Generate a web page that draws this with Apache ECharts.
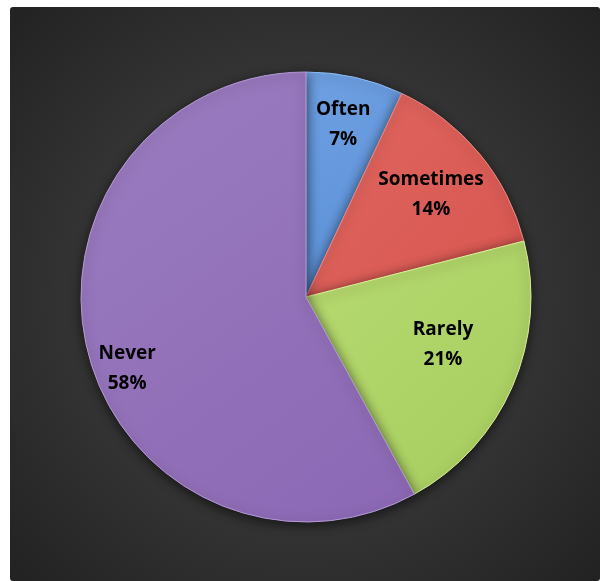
<!DOCTYPE html>
<html>
<head>
<meta charset="utf-8">
<script src="https://cdn.jsdelivr.net/npm/echarts@6/dist/echarts.min.js"></script>
<style>
  html, body { margin: 0; padding: 0; background: #fff; }
  #chart { width: 604px; height: 581px; }
</style>
</head>
<body>
<div id="chart"></div>
<script>
// 数据
var categories = ['Often', 'Sometimes', 'Rarely', 'Never'];
var values = [7, 14, 21, 58];
var sliceColors = ['#5a8fd6', '#d85650', '#a6cc5e', '#8c68b4'];
var sliceLight = ['#6ea0e2', '#e06660', '#b6da70', '#9a7cc0'];
var borderColors = ['#8cbcf4', '#f08a84', '#d8f29a', '#b49ad6'];
var labelOffsets = [[12, -60], [36, -29], [31, 2], [-67, 43]];

var chart = echarts.init(document.getElementById('chart'));

var data = categories.map(function (name, i) {
  return {
    name: name,
    value: values[i],
    itemStyle: {
      color: new echarts.graphic.LinearGradient(0, 0, 1, 1, [
        { offset: 0, color: sliceLight[i] },
        { offset: 1, color: sliceColors[i] }
      ]),
      borderColor: borderColors[i]
    },
    label: { offset: labelOffsets[i] }
  };
});

var option = {
  backgroundColor: '#ffffff',
  graphic: [
    {
      type: 'rect',
      z: -10,
      shape: { x: 10, y: 7, width: 590, height: 574, r: 3 },
      style: {
        fill: new echarts.graphic.RadialGradient(0.5, 0.5, 0.75, [
          { offset: 0, color: '#4a4a4a' },
          { offset: 1, color: '#202020' }
        ])
      }
    }
  ],
  series: [
    {
      type: 'pie',
      center: [306, 297],
      radius: 225,
      startAngle: 90,
      clockwise: true,
      animation: false,
      silent: true,
      itemStyle: {
        borderWidth: 1,
        shadowBlur: 12,
        shadowColor: 'rgba(0,0,0,0.6)',
        shadowOffsetY: 3
      },
      label: {
        show: true,
        position: 'inside',
        formatter: function (p) { return p.name + '\n' + p.value + '%'; },
        color: '#000',
        fontFamily: 'Open Sans',
        fontWeight: 'bold',
        fontSize: 19,
        lineHeight: 30
      },
      labelLine: { show: false },
      data: data
    }
  ]
};

chart.setOption(option);
</script>
</body>
</html>
